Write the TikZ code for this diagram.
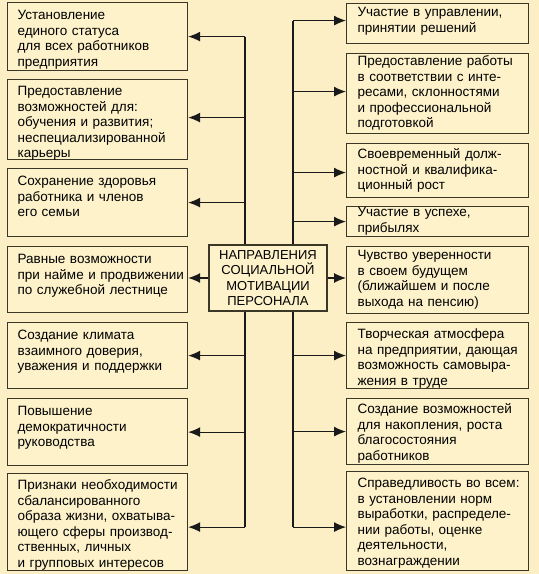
\documentclass[tikz,border=0pt]{standalone}
\usepackage{fontspec}
\setsansfont{Liberation Sans}
\usepackage{tikz}
\usetikzlibrary{arrows.meta}

\definecolor{bgcol}{HTML}{FCEFC6}
\definecolor{boxfill}{HTML}{FDF2CA}
\definecolor{boxline}{HTML}{3B3727}
\definecolor{linecol}{HTML}{1A1A1A}

\tikzset{
  box/.style={draw=boxline, fill=boxfill, line width=1.2bp, anchor=north west,
    inner sep=0pt, align=left, font=\sffamily\fontsize{13.5bp}{15.5bp}\selectfont},
  lbox/.style={box, minimum width=180bp, text width=178bp, text height=17bp,
    execute at begin node={\leftskip=9bp}},
  rbox/.style={box, minimum width=182bp, text width=180bp, text height=14bp,
    execute at begin node={\leftskip=10bp}},
  mainbox/.style={draw=boxline, fill=boxfill, line width=1.2bp, align=center,
    minimum width=118bp, minimum height=66bp, inner sep=0pt,
    font=\sffamily\fontsize{13bp}{15.5bp}\selectfont},
  link/.style={draw=linecol, line width=1.1bp},
  arr/.style={link, -{Latex[length=12bp,width=10bp]}},
}

\begin{document}
\begin{tikzpicture}
  \fill[bgcol] (0bp,0bp) rectangle (539bp,574bp);
  \useasboundingbox (0bp,0bp) rectangle (539bp,574bp);
%%
% Node: l1
\node[lbox, text depth=51bp] (l1) at (7bp,572bp)
  {Установление\\единого статуса\\для всех работников\\предприятия};
% Node: l2
\node[lbox, text height=16bp, text depth=64bp] (l2) at (7bp,495bp)
  {Предоставление\\возможностей для:\\обучения и развития;\\неспециализированной\\карьеры};
% Node: l3
\node[lbox, text depth=51bp] (l3) at (7bp,406bp)
  {Сохранение здоровья\\работника и членов\\его семьи};
% Node: l4
\node[lbox, text depth=49bp] (l4) at (7bp,328bp)
  {Равные возможности\\при найме и продвижении\\по служебной лестнице};
% Node: l5
\node[lbox, text depth=49bp] (l5) at (7bp,252bp)
  {Создание климата\\взаимного доверия,\\уважения и поддержки};
% Node: l6
\node[lbox, text depth=50bp] (l6) at (7bp,176bp)
  {Повышение\\демократичности\\руководства};
% Node: l7
\node[lbox, text height=16bp, text depth=81bp] (l7) at (7bp,101bp)
  {Признаки необходимости\\сбалансированного\\образа жизни, охватыва-\\ющего сферы производ-\\ственных, личных\\и групповых интересов};
%%
% Node: r1
\node[rbox, text height=13bp, text depth=27bp] (r1) at (346bp,571bp)
  {Участие в управлении,\\принятии решений};
% Node: r2
\node[rbox, text height=12bp, text depth=68bp] (r2) at (346bp,521bp)
  {Предоставление работы\\в соответствии с инте-\\ресами, склонностями\\и профессиональной\\подготовкой};
% Node: r3
\node[rbox, text height=15bp, text depth=39bp] (r3) at (346bp,431bp)
  {Своевременный долж-\\ностной и квалифика-\\ционный рост};
% Node: r4
\node[rbox, text height=10bp, text depth=20bp] (r4) at (346bp,368bp)
  {Участие в успехе,\\прибылях};
% Node: r5
\node[rbox, text height=13bp, text depth=54bp] (r5) at (346bp,328bp)
  {Чувство уверенности\\в своем будущем\\(ближайшем и после\\выхода на пенсию)};
% Node: r6
\node[rbox, text height=16bp, text depth=50bp] (r6) at (346bp,252bp)
  {Творческая атмосфера\\на предприятии, дающая\\возможность самовыра-\\жения в труде};
% Node: r7
\node[rbox, text height=15bp, text depth=51bp] (r7) at (346bp,176bp)
  {Создание возможностей\\для накопления, роста\\благосостояния\\работников};
% Node: r8
\node[rbox, text height=16bp, text depth=83bp] (r8) at (346bp,103bp)
  {Справедливость во всем:\\в установлении норм\\выработки, распределе-\\нии работы, оценке\\деятельности,\\вознаграждении};
%%
  % spines
  \coordinate (sl) at (245bp,296bp);
  \coordinate (sr) at (293bp,296bp);
  \draw[link] (l1.east -| sl) -- ([yshift=-5bp]l7.east -| sl);
  \draw[link] ([yshift=3bp]r1.west -| sr) -- ([yshift=-6bp]r8.west -| sr);
  % Edge: spine -> l1 .. l7
  \draw[arr] (l1.east -| sl) -- (l1.east);
  \draw[arr] ([yshift=2bp]l2.east -| sl) -- ([yshift=2bp]l2.east);
  \draw[arr] (l3.east -| sl) -- (l3.east);
  \draw[arr] (l5.east -| sl) -- (l5.east);
  \draw[arr] (l6.east -| sl) -- (l6.east);
  \draw[arr] ([yshift=-5bp]l7.east -| sl) -- ([yshift=-5bp]l7.east);
  % Edge: spine -> r1 .. r8
  \draw[arr] ([yshift=3bp]r1.west -| sr) -- ([yshift=3bp]r1.west);
  \draw[arr] ([yshift=2bp]r2.west -| sr) -- ([yshift=2bp]r2.west);
  \draw[arr] ([yshift=-2bp]r3.west -| sr) -- ([yshift=-2bp]r3.west);
  \draw[arr] (r4.west -| sr) -- (r4.west);
  \draw[arr] (r6.west -| sr) -- (r6.west);
  \draw[arr] (r7.west -| sr) -- (r7.west);
  \draw[arr] ([yshift=-6bp]r8.west -| sr) -- ([yshift=-6bp]r8.west);
%%
% Node: centre
\node[mainbox] (centre) at (268bp,296bp)
  {НАПРАВЛЕНИЯ\\СОЦИАЛЬНОЙ\\МОТИВАЦИИ\\ПЕРСОНАЛА};
  % Edge: centre -> l4
  \draw[arr] (centre.west) -- (centre.west -| l4.east);
  % Edge: centre -> r5
  \draw[arr] (centre.east) -- (centre.east -| r5.west);
%
\end{tikzpicture}
\end{document}
